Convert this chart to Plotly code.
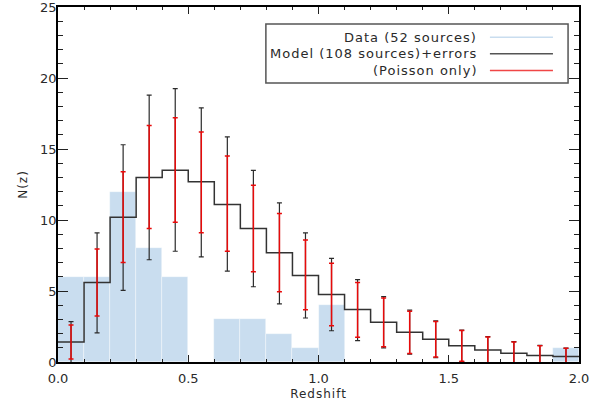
import plotly.graph_objects as go

# ---------------- data ----------------
bin_edges = [round(0.1 * i, 1) for i in range(21)]          # 0.0 ... 2.0
bin_centers = [round(0.05 + 0.1 * i, 2) for i in range(20)]

data_counts = [6, 6, 12, 8, 6, 0, 3, 3, 2, 1, 4, 0, 0, 0, 0, 0, 0, 0, 0, 1]

model_counts = [1.4, 5.6, 10.2, 13.0, 13.5, 12.7, 11.1, 9.4, 7.7, 6.1,
                4.75, 3.7, 2.8, 2.1, 1.6, 1.15, 0.85, 0.62, 0.45, 0.38]

# total errors (black): upper / lower limits
model_upper = [2.85, 9.1, 15.3, 18.8, 19.25, 17.9, 15.85, 13.5, 11.2, 9.1,
               7.3, 5.8, 4.6, 3.65, 2.9, 2.25, 1.78, 1.43, 1.17, 0.98]
model_lower = [-0.2, 2.05, 5.05, 7.2, 7.8, 7.4, 6.4, 5.3, 4.1, 3.1,
               2.2, 1.5, 1.0, 0.55, 0.3, 0.03, -0.1, -0.2, -0.25, -0.27]

# Poisson-only errors (red): upper / lower limits
poisson_upper = [2.6, 7.95, 13.4, 16.65, 17.2, 16.2, 14.5, 12.45, 10.45, 8.6,
                 6.95, 5.6, 4.5, 3.58, 2.85, 2.22, 1.76, 1.41, 1.15, 0.97]
poisson_lower = [0.22, 3.24, 7.0, 9.4, 9.85, 9.1, 7.8, 6.35, 4.95, 3.68,
                 2.55, 1.75, 1.07, 0.6, 0.35, 0.06, -0.07, -0.17, -0.22, -0.24]

legend_labels = ["Data (52 sources)", "Model (108 sources)+errors", "(Poisson only)"]

x_ticks = [0.0, 0.5, 1.0, 1.5, 2.0]
y_ticks = [0, 5, 10, 15, 20, 25]

# ---------------- style ----------------
BLUE = "rgb(201,221,239)"
GREY = "#333333"
RED = "rgb(232,10,10)"
FONT = "DejaVu Sans"
TXT = "#2a2a2a"


def spaced(s, px=1):
    return f'<span style="letter-spacing:{px}px">{s}</span>'


fig = go.Figure()

# data histogram (filled)
fig.add_trace(go.Bar(
    x=bin_centers, y=data_counts, width=0.1,
    marker=dict(color=BLUE, line=dict(color="rgba(255,255,255,0.6)", width=0.6)),
    showlegend=False, hoverinfo="skip"))

# model histogram (step line)
fig.add_trace(go.Scatter(
    x=bin_edges, y=model_counts + [model_counts[-1]],
    mode="lines", line=dict(color=GREY, width=1.5, shape="hv"),
    showlegend=False, hoverinfo="skip"))

# total errors (black)
fig.add_trace(go.Scatter(
    x=bin_centers, y=model_counts, mode="markers",
    marker=dict(size=1, color="rgba(0,0,0,0)"),
    error_y=dict(type="data", symmetric=False,
                 array=[u - m for u, m in zip(model_upper, model_counts)],
                 arrayminus=[m - l for l, m in zip(model_lower, model_counts)],
                 color="#2b2b2b", thickness=1.2, width=2.5),
    showlegend=False, hoverinfo="skip"))

# Poisson errors (red)
fig.add_trace(go.Scatter(
    x=bin_centers, y=model_counts, mode="markers",
    marker=dict(size=1, color="rgba(0,0,0,0)"),
    error_y=dict(type="data", symmetric=False,
                 array=[u - m for u, m in zip(poisson_upper, model_counts)],
                 arrayminus=[m - l for l, m in zip(poisson_lower, model_counts)],
                 color=RED, thickness=1.5, width=2.5),
    showlegend=False, hoverinfo="skip"))

axis_common = dict(
    showline=True, linecolor="black", linewidth=1.6, mirror="ticks",
    ticks="inside", tickcolor="#222", tickwidth=1.2,
    showgrid=False, zeroline=False, automargin=False,
    ticklabeloverflow="allow",
    tickfont=dict(family=FONT, size=13, color=TXT),
)

fig.update_xaxes(
    range=[0, 2], tickvals=x_ticks, ticktext=[f"{v:.1f}" for v in x_ticks],
    ticklen=7, ticklabelstandoff=4,
    minor=dict(dtick=0.1, tick0=0, ticks="inside", ticklen=3.5, tickcolor="#222", tickwidth=1.1),
    title=dict(text=spaced("Redshift"), font=dict(family=FONT, size=12, color=TXT), standoff=4),
    **axis_common)

fig.update_yaxes(
    range=[0, 25], tickvals=y_ticks, ticktext=[str(v) for v in y_ticks],
    ticklen=10, ticklabelstandoff=-3,
    minor=dict(dtick=1, tick0=0, ticks="inside", ticklen=5, tickcolor="#222", tickwidth=1.1),
    title=dict(text=spaced("N(z)"), font=dict(family=FONT, size=12, color=TXT), standoff=10),
    **axis_common)

# ---------------- manual legend (symbols on the right) ----------------
leg_x0, leg_x1, leg_y0, leg_y1 = 0.399, 0.979, 0.786, 0.952
fig.add_shape(type="rect", xref="paper", yref="paper",
              x0=leg_x0, x1=leg_x1, y0=leg_y0, y1=leg_y1,
              line=dict(color="#555555", width=1.5), fillcolor="white", layer="above")
row_y = [0.915, 0.868, 0.821]
line_cols = [BLUE, "#555555", "rgb(240,70,70)"]
for lab, yy, col in zip(legend_labels, row_y, line_cols):
    fig.add_annotation(xref="paper", yref="paper", x=0.808, y=yy, text=spaced(lab),
                       showarrow=False, xanchor="right", yanchor="middle",
                       font=dict(family=FONT, size=13, color=TXT))
    fig.add_shape(type="line", xref="paper", yref="paper",
                  x0=0.829, x1=0.950, y0=yy, y1=yy,
                  line=dict(color=col, width=1.5), layer="above")

fig.update_layout(
    width=591, height=409,
    margin=dict(l=58, r=12, t=7, b=47, autoexpand=False),
    paper_bgcolor="white", plot_bgcolor="white",
    bargap=0, showlegend=False,
)

fig.write_html("out.html", config={"displayModeBar": False},
               post_script="document.body.style.margin='0px';")
